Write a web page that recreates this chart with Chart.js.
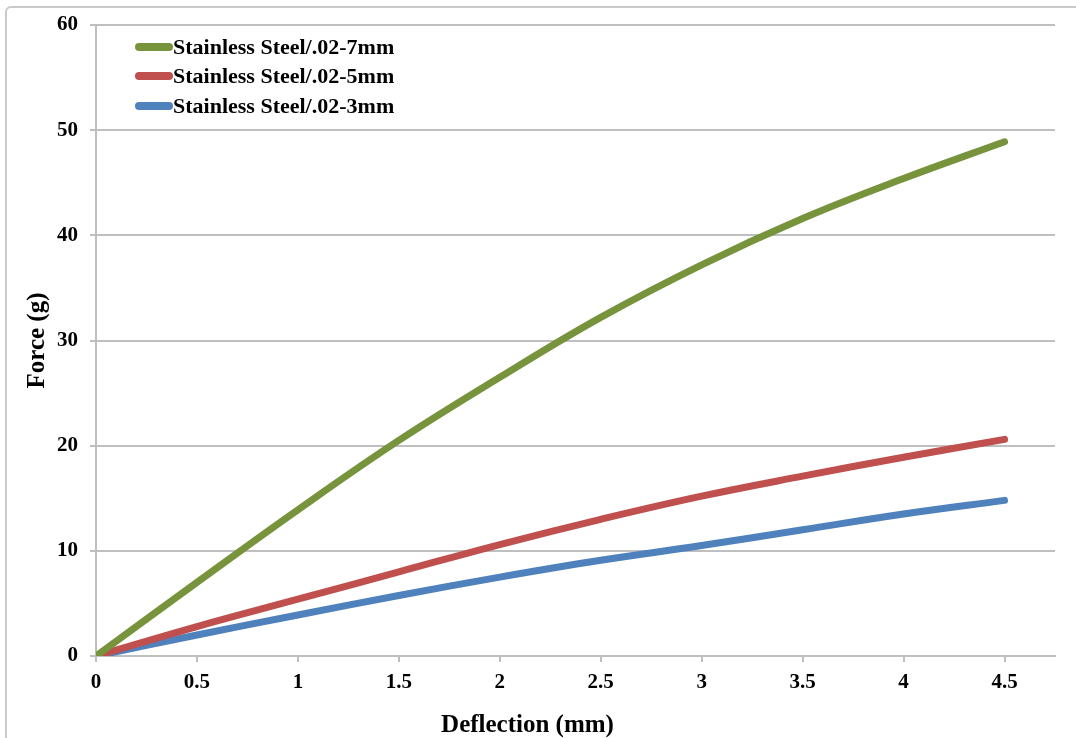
<!DOCTYPE html>
<html lang="en">
<head>
    <meta charset="UTF-8">
    <title>Force vs Deflection</title>
    <script src="https://cdn.jsdelivr.net/npm/chart.js"></script>
    <style>
        * {
            margin: 0;
            padding: 0;
            box-sizing: border-box;
        }

        body {
            background: #ffffff;
            width: 1076px;
            height: 738px;
            overflow: hidden;
            position: relative;
            font-family: 'Liberation Serif', 'Times New Roman', serif;
        }

        .frame {
            position: absolute;
            left: 5px;
            top: 6px;
            width: 1200px;
            height: 900px;
            border: 2px solid #c9c9c9;
            border-radius: 6px;
        }

        .chart-container {
            position: absolute;
            left: 0;
            top: 0;
            width: 1076px;
            height: 738px;
        }

        .legend {
            position: absolute;
            left: 135px;
            top: 32px;
            list-style: none;
        }

        .legend li {
            display: flex;
            align-items: center;
            height: 29.5px;
            font-size: 22px;
            font-weight: bold;
            color: #000;
        }

        .legend .swatch {
            width: 38px;
            height: 8px;
            border-radius: 4px;
            margin-right: 0;
        }
    </style>
</head>
<body>
    <div class="frame"></div>
    <div class="chart-container">
        <canvas id="forceChart" width="1076" height="738"></canvas>
    </div>
    <ul class="legend" id="legend"></ul>

    <script>
        // values
        const deflection = [0, 0.5, 1, 1.5, 2, 2.5, 3, 3.5, 4, 4.5];
        const steel7mm = [0, 7.0, 13.9, 20.5, 26.5, 32.2, 37.2, 41.6, 45.4, 48.9];
        const steel5mm = [0, 2.8, 5.4, 8.0, 10.6, 13.0, 15.2, 17.1, 18.9, 20.6];
        const steel3mm = [0, 2.0, 3.9, 5.75, 7.5, 9.1, 10.5, 12.0, 13.5, 14.8];
        const seriesLabels = ['Stainless Steel/.02-7mm', 'Stainless Steel/.02-5mm', 'Stainless Steel/.02-3mm'];
        const seriesColors = ['#77933c', '#c0504d', '#4f81bd'];

        const serif = "'Liberation Serif', 'Times New Roman', serif";
        const gridGray = '#bfbfbf';

        function toPoints(values) {
            return deflection.map((x, i) => ({ x: x, y: values[i] }));
        }

        const datasets = [steel7mm, steel5mm, steel3mm].map((values, i) => ({
            label: seriesLabels[i],
            data: toPoints(values),
            borderColor: seriesColors[i],
            backgroundColor: seriesColors[i],
            borderWidth: 7,
            borderCapStyle: 'round',
            pointRadius: 0,
            tension: 0.4,
            fill: false
        }));

        const ctx = document.getElementById('forceChart').getContext('2d');
        const forceChart = new Chart(ctx, {
            type: 'line',
            data: { datasets: datasets },
            options: {
                responsive: false,
                animation: false,
                layout: {
                    padding: { top: 25, right: 21, left: 0, bottom: 0 }
                },
                plugins: {
                    legend: { display: false },
                    tooltip: { enabled: false },
                    // x axis title: Excel centres it on the whole chart, not the plot
                    title: {
                        display: true,
                        position: 'bottom',
                        text: 'Deflection (mm)',
                        color: '#000',
                        padding: 0,
                        font: { family: serif, size: 25, weight: 'bold', lineHeight: 1 }
                    }
                },
                scales: {
                    x: {
                        type: 'linear',
                        min: 0,
                        max: 4.75,
                        afterFit: scale => { scale.height = 57; },
                        ticks: {
                            stepSize: 0.5,
                            includeBounds: false,
                            maxRotation: 0,
                            padding: 8,
                            color: '#000',
                            font: { family: serif, size: 21, weight: 'bold' },
                            callback: value => String(value)
                        },
                        grid: {
                            drawOnChartArea: false,
                            drawTicks: true,
                            tickLength: 6,
                            color: gridGray,
                            lineWidth: 2
                        },
                        border: { color: gridGray, width: 2 }
                    },
                    y: {
                        min: 0,
                        max: 60,
                        afterFit: scale => { scale.width = 96; },
                        ticks: {
                            stepSize: 10,
                            padding: 12,
                            color: '#000',
                            font: { family: serif, size: 21, weight: 'bold' }
                        },
                        grid: {
                            color: gridGray,
                            lineWidth: 2,
                            tickLength: 6
                        },
                        border: { color: gridGray, width: 2 },
                        title: {
                            display: true,
                            text: 'Force (g)',
                            color: '#000',
                            padding: { top: 23, bottom: 0 },
                            font: { family: serif, size: 25, weight: 'bold' }
                        }
                    }
                }
            }
        });

        // legend sits inside the plot, top-left
        const legend = document.getElementById('legend');
        legend.innerHTML = forceChart.data.datasets.map(ds =>
            `<li><span class="swatch" style="background:${ds.borderColor}"></span>${ds.label}</li>`
        ).join('');
    </script>
</body>
</html>
